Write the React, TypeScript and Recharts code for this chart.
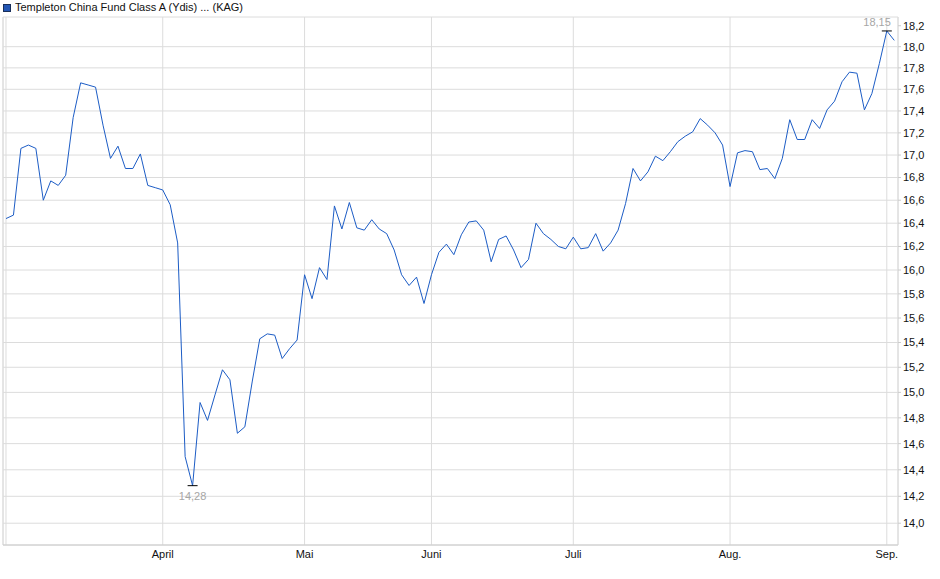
import React from "react";
import {
  LineChart,
  Line,
  XAxis,
  YAxis,
  CartesianGrid,
  ReferenceLine,
  ReferenceArea,
} from "recharts";

// daily prices, one array per month (trading days only)
const MAR = [16.44, 16.47, 17.06, 17.09, 17.06, 16.6, 16.77, 16.73, 16.82, 17.34, 17.66, 17.64, 17.62, 17.27, 16.97, 17.08, 16.88, 16.88, 17.01, 16.73, 16.71];
const APR = [16.69, 16.56, 16.23, 14.5, 14.28, 14.92, 14.78, 14.98, 15.18, 15.1, 14.68, 14.73, 15.09, 15.43, 15.47, 15.46, 15.27, 15.35, 15.42];
const MAY = [15.96, 15.76, 16.02, 15.92, 16.55, 16.35, 16.58, 16.36, 16.34, 16.43, 16.35, 16.31, 16.17, 15.96, 15.87, 15.94, 15.72];
const JUN = [15.96, 16.15, 16.22, 16.13, 16.3, 16.41, 16.42, 16.34, 16.07, 16.26, 16.29, 16.17, 16.02, 16.09, 16.4, 16.31, 16.26, 16.2, 16.18];
const JUL = [16.28, 16.18, 16.19, 16.31, 16.16, 16.23, 16.34, 16.57, 16.88, 16.77, 16.85, 16.99, 16.95, 17.03, 17.12, 17.17, 17.21, 17.33, 17.27, 17.2, 17.09];
const AUG = [16.72, 17.02, 17.04, 17.03, 16.87, 16.88, 16.79, 16.97, 17.32, 17.14, 17.14, 17.32, 17.24, 17.41, 17.49, 17.67, 17.76, 17.75, 17.41, 17.56, 17.84];
const SEP = [18.15, 18.06];

const MONTHS = [MAR, APR, MAY, JUN, JUL, AUG, SEP];
const MONTH_LABELS = ["", "April", "Mai", "Juni", "Juli", "Aug.", "Sep."];

const Y_TICKS = [14.0, 14.2, 14.4, 14.6, 14.8, 15.0, 15.2, 15.4, 15.6, 15.8, 16.0, 16.2, 16.4, 16.6, 16.8, 17.0, 17.2, 17.4, 17.6, 17.8, 18.0, 18.2];
const Y_GRID = Y_TICKS.filter((t) => t < 18.1);
const Y_MIN = 13.84;
const Y_MAX = 18.284;

const VALUES = MONTHS.flat();
const data = VALUES.map((v, i) => ({ i, v }));

const MONTH_START: number[] = [];
MONTHS.reduce((acc, m) => {
  MONTH_START.push(acc);
  return acc + m.length;
}, 0);

const X_MIN = -0.4;
const X_MAX = VALUES.length - 1 + 0.5;

const MIN_IDX = VALUES.indexOf(Math.min(...VALUES));
const MAX_IDX = VALUES.indexOf(Math.max(...VALUES));

const FONT = '"Liberation Sans", Arial, sans-serif';
const GRID = "#dcdcdc";
const fmt = (v: number, d = 1) => v.toFixed(d).replace(".", ",");

const renderDot = (props: any) => {
  const { cx, cy, index } = props;
  if (index === MIN_IDX) {
    return (
      <g key="min">
        <line x1={cx - 5} x2={cx + 5} y1={cy} y2={cy} stroke="#000" strokeWidth={1} />
        <text x={cx} y={cy + 14} textAnchor="middle" fontSize={11} fontFamily={FONT} fill="#a6a6a6">
          {fmt(VALUES[index], 2)}
        </text>
      </g>
    );
  }
  if (index === MAX_IDX) {
    return (
      <g key="max">
        <line x1={cx - 5} x2={cx + 5} y1={cy} y2={cy} stroke="#000" strokeWidth={1} />
        <text x={cx + 4} y={cy - 5} textAnchor="end" fontSize={11} fontFamily={FONT} fill="#a6a6a6">
          {fmt(VALUES[index], 2)}
        </text>
      </g>
    );
  }
  return <g key={`d${index}`} />;
};

export default function App() {
  return (
    <div style={{ position: "absolute", left: 0, top: 0, width: 940, height: 579, background: "#fff" }}>
      <div
        style={{
          position: "absolute",
          left: 3,
          top: 1,
          fontFamily: FONT,
          fontSize: 11,
          lineHeight: "13px",
          color: "#111",
          whiteSpace: "nowrap",
          display: "flex",
          alignItems: "center",
        }}
      >
        <span
          style={{
            display: "inline-block",
            width: 6,
            height: 6,
            background: "#2356b4",
            border: "1px solid #1a2f5a",
            marginRight: 4,
          }}
        />
        Templeton China Fund Class A (Ydis) ... (KAG)
      </div>
      <LineChart width={940} height={579} data={data} margin={{ top: 17, right: 4, bottom: 14, left: 3 }}>
        <CartesianGrid vertical horizontal={false} stroke={GRID} />
        {Y_GRID.map((t) => (
          <ReferenceLine key={t} y={t} stroke={GRID} />
        ))}
        <ReferenceArea x1={X_MIN} x2={X_MAX} y1={Y_MIN} y2={Y_MAX} fill="none" stroke={GRID} ifOverflow="visible" />
        <XAxis
          dataKey="i"
          type="number"
          domain={[X_MIN, X_MAX]}
          ticks={MONTH_START}
          tickFormatter={(v: number) => MONTH_LABELS[MONTH_START.indexOf(v)] ?? ""}
          height={20}
          axisLine={{ stroke: "#cccccc" }}
          tickLine={false}
          tickSize={3}
          tickMargin={2}
          interval={0}
          tick={{ fontSize: 11, fontFamily: FONT, fill: "#111" }}
        />
        <YAxis
          orientation="right"
          scale="log"
          domain={[Y_MIN, Y_MAX]}
          allowDataOverflow
          ticks={Y_TICKS}
          interval={0}
          tickFormatter={(v: number) => fmt(v)}
          width={38}
          axisLine={false}
          tickLine={{ stroke: "#cccccc" }}
          tickSize={3}
          tickMargin={2}
          tick={{ fontSize: 11, fontFamily: FONT, fill: "#111", textAnchor: "start" }}
        />
        <Line
          type="linear"
          dataKey="v"
          stroke="#1c5cc5"
          strokeWidth={1}
          dot={renderDot}
          activeDot={false}
          isAnimationActive={false}
        />
      </LineChart>
    </div>
  );
}
